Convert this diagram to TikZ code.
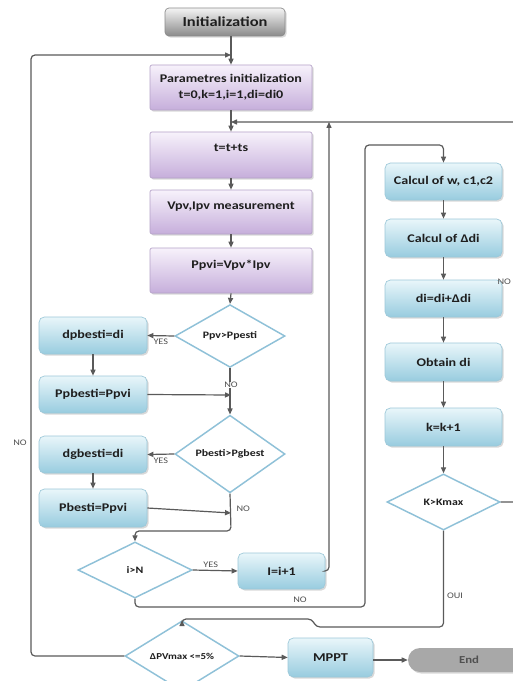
\documentclass[tikz,border=0pt]{standalone}
\usepackage{fontspec}
\setmainfont{Carlito}[FakeStretch=1.2]
\usetikzlibrary{arrows.meta,shapes.geometric,shadows}
\definecolor{linegray}{HTML}{5A5A5A}
\definecolor{diaedge}{HTML}{8FC1D8}
\definecolor{purtop}{HTML}{F7F2FB}
\definecolor{purbot}{HTML}{C6AEDB}
\definecolor{puredge}{HTML}{B5A2C8}
\definecolor{blutop}{HTML}{E9F6FA}
\definecolor{blubot}{HTML}{98CCDF}
\definecolor{bluedge}{HTML}{9CC8D9}
\definecolor{grtop}{HTML}{F4F4F4}
\definecolor{grbot}{HTML}{8A8A8A}
\definecolor{endfill}{HTML}{A8A8A8}
\definecolor{txt}{HTML}{1E1E1E}
\definecolor{lbl}{HTML}{505050}
\begin{document}
\begin{tikzpicture}[x=0.75pt,y=-0.75pt,
  line/.style={draw=linegray, line width=0.9pt, rounded corners=3pt},
  arr/.style={line, -{Triangle[length=4.5pt,width=3.8pt]}},
  boxtext/.style={font=\bfseries\fontsize{8.8}{11}\selectfont, text=txt, align=center, inner sep=1pt},
  shadowed/.style={drop shadow={opacity=0.3,shadow xshift=1.2pt,shadow yshift=-1.2pt}},
  pbox/.style={boxtext, shadowed, draw=puredge, line width=0.5pt, rounded corners=1.5pt,
    top color=purtop, bottom color=purbot, minimum width=162*0.75pt},
  bbox/.style={boxtext, shadowed, draw=bluedge, line width=0.5pt, rounded corners=4pt,
    top color=blutop, bottom color=blubot},
  gbox/.style={boxtext, shadowed, draw=grbot, line width=0.5pt, rounded corners=3pt,
    top color=grtop, bottom color=grbot, font=\bfseries\fontsize{10.3}{12}\selectfont},
  dia/.style={diamond, draw=diaedge, line width=1.1pt, fill=white, inner sep=0pt,
    font=\bfseries\fontsize{7.4}{9}\selectfont, text=txt},
  lab/.style={font=\fontsize{6.4}{7}\selectfont, text=lbl, inner sep=1pt}
]
\useasboundingbox (0,0) rectangle (513,681);
\fill[white] (0,0) rectangle (513,681);
\clip (0,0) rectangle (513,681);

% left / centre column
\node[gbox, minimum width=120*0.75pt, minimum height=28*0.75pt] (init) at (225,22) {Initialization};
\node[pbox, minimum height=45*0.75pt] (param) at (231,87.5) {Parametres initialization\\[1pt]t=0,k=1,i=1,di=di0};
\node[pbox, minimum height=46*0.75pt, text depth=11pt] (tt) at (231,155) {t=t+ts};
\node[pbox, minimum height=44*0.75pt, text depth=9pt] (vpv) at (231,212) {Vpv,Ipv measurement};
\node[pbox, minimum height=45*0.75pt, text depth=9pt] (ppvi) at (231,270.5) {Ppvi=Vpv*Ipv};
\node[dia, minimum width=110*0.75pt, minimum height=56*0.75pt] (d1) at (230,336) {Ppv>Ppesti};
\node[dia, minimum width=110*0.75pt, minimum height=56*0.75pt] (d2) at (230,454) {Pbesti>Pgbest};
\node[bbox, minimum width=108*0.75pt, minimum height=37*0.75pt] (dpb) at (93,335.5) {dpbesti=di};
\node[bbox, minimum width=108*0.75pt, minimum height=37*0.75pt] (ppb) at (93,394.5) {Ppbesti=Ppvi};
\node[bbox, minimum width=108*0.75pt, minimum height=37*0.75pt] (dgb) at (93,454.5) {dgbesti=di};
\node[bbox, minimum width=108*0.75pt, minimum height=38*0.75pt] (pb) at (93,508) {Pbesti=Ppvi};
\node[dia, minimum width=114*0.75pt, minimum height=56*0.75pt] (d3) at (135,570) {i>N};
\node[bbox, minimum width=87*0.75pt, minimum height=36*0.75pt] (inc) at (281.5,571) {I=i+1};

% right column
\node[bbox, minimum width=117*0.75pt, minimum height=37*0.75pt] (cw) at (443.5,181.5) {Calcul of w, c1,c2};
\node[bbox, minimum width=117*0.75pt, minimum height=38*0.75pt] (cd) at (443.5,238) {Calcul of Δdi};
\node[bbox, minimum width=117*0.75pt, minimum height=37*0.75pt] (dd) at (443.5,298.5) {di=di+Δdi};
\node[bbox, minimum width=117*0.75pt, minimum height=38*0.75pt] (ob) at (443.5,362) {Obtain di};
\node[bbox, minimum width=117*0.75pt, minimum height=38*0.75pt] (kk) at (443.5,427) {k=k+1};
\node[dia, minimum width=113*0.75pt, minimum height=56*0.75pt] (d4) at (443.5,502) {K>Kmax};

% bottom row
\node[dia, minimum width=114*0.75pt, minimum height=54*0.75pt, font=\bfseries\fontsize{6.8}{8}\selectfont] (d5) at (182,656) {ΔPVmax <=5\%};
\node[bbox, minimum width=85*0.75pt, minimum height=39*0.75pt, font=\bfseries\fontsize{9}{11}\selectfont] (mppt) at (330.5,657.5) {MPPT};
\node[boxtext, shadowed, rounded corners=12*0.75pt, fill=endfill, minimum width=122*0.75pt, minimum height=24*0.75pt, font=\bfseries\fontsize{8}{10}\selectfont, text=lbl] (end) at (469,660) {End};

% junction coordinates
\coordinate (j1) at (231,55);
\coordinate (j2) at (231,122);
\coordinate (j3) at (329,122);
\coordinate (m1) at (231,395);
\coordinate (m2) at (231,513);

% main flow
\draw[line] (init.south -| j1) -- (j1);
\draw[arr] (j1) -- (param.north);
\draw[line] (param.south) -- (j2);
\draw[arr] (j2) -- (tt.north);
\draw[arr] (tt.south) -- (vpv.north);
\draw[arr] (vpv.south) -- (ppvi.north);
\draw[arr] (ppvi.south) -- (d1.north);
\draw[arr] (d1.west) -- node[lab, below=1pt] {YES} (dpb.east);
\draw[arr] (dpb.south) -- (ppb.north);
\draw[arr] (d1.south) -- (d2.north);
\draw[arr] (ppb.east) -- (m1);
\node[lab, fill=white, inner sep=0.5pt] at (231,385) {NO};
\draw[arr] (d2.west) -- node[lab, below=1pt] {YES} (dgb.east);
\draw[arr] (dgb.south) -- (pb.north);
\draw[arr] (pb.east) -- (m2);
\node[lab, anchor=west] at (235,509) {NO};
\draw[arr] (d2.south) -- (231,531) -- (135,531) -- (d3.north);
\draw[arr] (d3.east) -- node[lab, above=1pt, pos=0.4] {YES} (inc.west);
\draw[arr] (inc.east) -- (329,571) -- (j3);
\draw[arr] (d3.south) -- (135,607) -- (365,607) -- (365,145) -- (443.5,145) -- (cw.north);
\node[lab] at (300,600) {NO};

% right column flow
\draw[arr] (cw.south) -- (cd.north);
\draw[arr] (cd.south) -- (dd.north);
\draw[arr] (dd.south) -- (ob.north);
\draw[arr] (ob.south) -- (kk.north);
\draw[arr] (kk.south) -- (d4.north);
\draw[arr] (d4.east) -- (518,502) -- (518,122) -- (j2);
\node[lab, anchor=east] at (512.5,282) {NO};
\draw[arr] (d4.south) -- (443.5,627) -- (316,627) -- (312,619) -- (182,619) -- (d5.north);
\node[lab] at (455,596) {OUI};

% outer loop and end
\draw[arr] (d5.west) -- (31,656) -- (31,55) -- (j1);
\node[lab] at (20,443) {NO};
\draw[arr] (d5.east) -- (mppt.west);
\draw[arr] (mppt.east |- end.west) -- (end.west);
\end{tikzpicture}
\end{document}
